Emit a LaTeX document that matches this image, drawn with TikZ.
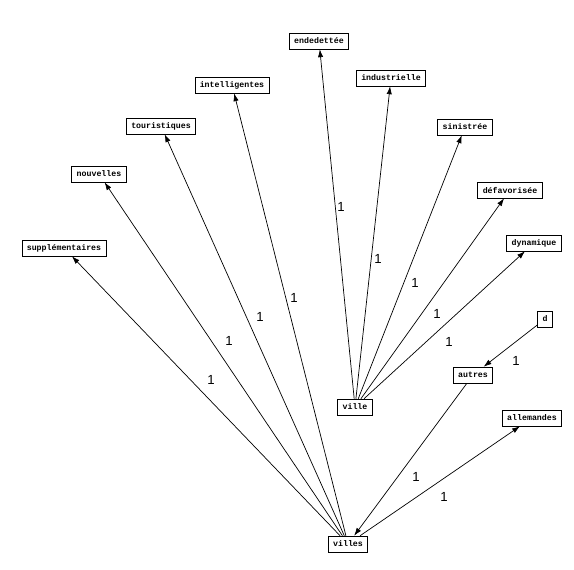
\documentclass[tikz,border=0pt]{standalone}
\usepackage{fontspec}
\setmonofont{Liberation Mono}
\setsansfont{Liberation Sans}
\usetikzlibrary{arrows.meta}
\tikzset{
  word/.style={draw, thin, fill=white, font=\ttfamily\bfseries\fontsize{4.7}{5}\selectfont,
               inner xsep=2.8pt, inner ysep=0pt, minimum height=9pt},
  link/.style={-{Latex[length=4.5pt,width=3pt]}, thin},
  wt/.style={font=\sffamily\fontsize{7.5}{8}\selectfont, inner sep=0pt},
}
\begin{document}
\begin{tikzpicture}[x=0.02cm, y=-0.02cm]
  \useasboundingbox (0,0) rectangle (574,569);
%---------------- words ----------------
  \node[word] (endedettee) at (319,41) {endedettée};
  \node[word] (industrielle) at (391,78) {industrielle};
  \node[word] (intelligentes) at (232,85) {intelligentes};
  \node[word] (touristiques) at (161,126) {touristiques};
  \node[word] (sinistree) at (465,127) {sinistrée};
  \node[word] (nouvelles) at (99,174) {nouvelles};
  \node[word] (defavorisee) at (510,190) {défavorisée};
  \node[word] (supplementaires) at (64,248) {supplémentaires};
  \node[word] (dynamique) at (534,243) {dynamique};
  \node[word] (d) at (545,319) {d};
  \node[word] (autres) at (473,375) {autres};
  \node[word] (ville) at (355,407) {ville};
  \node[word] (allemandes) at (532,418) {allemandes};
  \node[word] (villes) at (348,544) {villes};
%---------------- links from ville ----------------
  \draw[link] (ville) -- (endedettee);
  \draw[link] (ville) -- (industrielle);
  \draw[link] (ville) -- (sinistree);
  \draw[link] (ville) -- (defavorisee);
  \draw[link] (ville) -- (dynamique);
%---------------- links from villes ----------------
  \draw[link] (villes) -- (supplementaires);
  \draw[link] (villes) -- (nouvelles);
  \draw[link] (villes) -- (touristiques);
  \draw[link] (villes) -- (intelligentes);
  \draw[link] (villes) -- (allemandes);
  \draw[link] (autres) -- (villes);
  \draw[link] (d) -- (autres);
%---------------- weights ----------------
  \node[wt] (w1) at (341,207) {1};
  \node[wt] (w2) at (378,259) {1};
  \node[wt] (w3) at (415,283) {1};
  \node[wt] (w4) at (437,314) {1};
  \node[wt] (w5) at (449,342) {1};
  \node[wt] (w6) at (516,361) {1};
  \node[wt] (w7) at (294,298) {1};
  \node[wt] (w8) at (260,317) {1};
  \node[wt] (w9) at (229,341) {1};
  \node[wt] (w10) at (211,380) {1};
  \node[wt] (w11) at (416,477) {1};
  \node[wt] (w12) at (444,497) {1};
\end{tikzpicture}
\end{document}
